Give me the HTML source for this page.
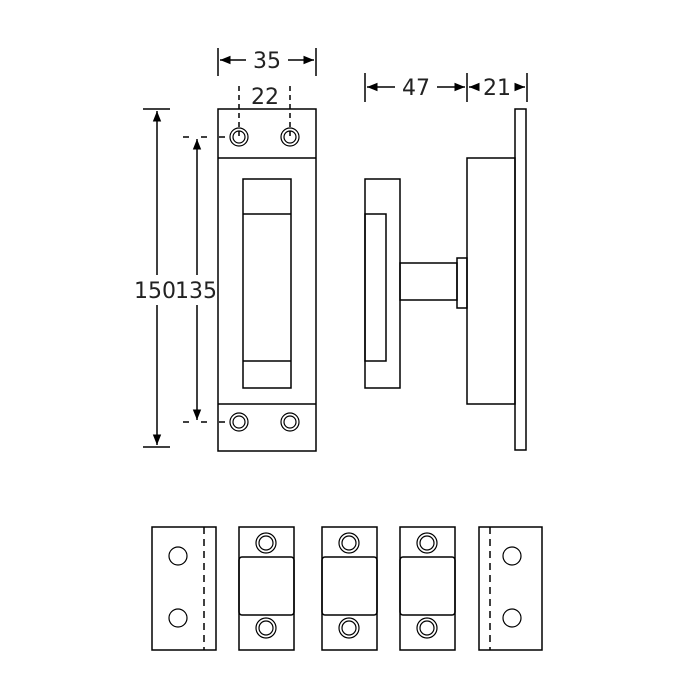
<!DOCTYPE html>
<html><head><style>body{margin:0;background:#fff}svg{display:block}text{font-family:"DejaVu Sans","Liberation Sans",sans-serif;fill:#222}</style></head><body>
<svg width="700" height="700" viewBox="0 0 700 700" xmlns="http://www.w3.org/2000/svg">
<defs><marker id="a" viewBox="0 0 10 10" refX="10" refY="5" markerWidth="7" markerHeight="7" orient="auto-start-reverse"><path d="M0,1 L10,5 L0,9z" fill="#000"/></marker></defs>
<g fill="none" stroke="#000" stroke-width="1.5">
<!-- front plate -->
<rect x="218" y="109" width="98" height="342"/>
<line x1="218" y1="158" x2="316" y2="158"/><line x1="218" y1="404" x2="316" y2="404"/>
<rect x="243" y="179" width="48" height="209"/>
<line x1="243" y1="214" x2="291" y2="214"/><line x1="243" y1="361" x2="291" y2="361"/>
<g stroke-width="1.2"><circle cx="239" cy="137" r="9"/><circle cx="239" cy="137" r="6"/><circle cx="290" cy="137" r="9"/><circle cx="290" cy="137" r="6"/>
<circle cx="239" cy="422" r="9"/><circle cx="239" cy="422" r="6"/><circle cx="290" cy="422" r="9"/><circle cx="290" cy="422" r="6"/></g>
<!-- dims -->
<line x1="218" y1="48" x2="218" y2="76"/><line x1="316" y1="48" x2="316" y2="76"/>
<line x1="220" y1="60" x2="246" y2="60" marker-end="url(#a)" transform="rotate(180 233 60)"/>
<line x1="288" y1="60" x2="314" y2="60" marker-end="url(#a)"/>
<line x1="239" y1="86" x2="239" y2="137" stroke-dasharray="5,4"/><line x1="290" y1="86" x2="290" y2="137" stroke-dasharray="5,4"/>
<line x1="143" y1="109" x2="170" y2="109"/><line x1="143" y1="447" x2="170" y2="447"/>
<line x1="157" y1="275" x2="157" y2="111" marker-end="url(#a)"/><line x1="157" y1="305" x2="157" y2="445" marker-end="url(#a)"/>
<line x1="183" y1="137" x2="232" y2="137" stroke-dasharray="6,12"/><line x1="183" y1="422" x2="232" y2="422" stroke-dasharray="6,12"/>
<line x1="197" y1="275" x2="197" y2="139" marker-end="url(#a)"/><line x1="197" y1="305" x2="197" y2="420" marker-end="url(#a)"/>
<!-- side -->
<line x1="365" y1="73" x2="365" y2="102"/><line x1="467" y1="73" x2="467" y2="102"/><line x1="527" y1="73" x2="527" y2="102"/>
<line x1="395" y1="87" x2="367" y2="87" marker-end="url(#a)"/><line x1="437" y1="87" x2="465" y2="87" marker-end="url(#a)"/>
<line x1="476" y1="87" x2="469" y2="87" marker-end="url(#a)"/><line x1="518" y1="87" x2="525" y2="87" marker-end="url(#a)"/>
<rect x="515" y="109" width="11" height="341"/>
<rect x="467" y="158" width="48" height="246"/>
<rect x="457" y="258" width="10" height="50"/>
<rect x="400" y="263" width="57" height="37"/>
<rect x="365" y="179" width="35" height="209"/>
<rect x="365" y="214" width="21" height="147"/>
<!-- bottom -->
<rect x="152" y="527" width="64" height="123"/><line x1="204" y1="527" x2="204" y2="650" stroke-dasharray="7,5"/>
<circle cx="178" cy="556" r="9" stroke-width="1.2"/><circle cx="178" cy="618" r="9" stroke-width="1.2"/>
<rect x="479" y="527" width="63" height="123"/><line x1="490" y1="527" x2="490" y2="650" stroke-dasharray="7,5"/>
<circle cx="512" cy="556" r="9" stroke-width="1.2"/><circle cx="512" cy="618" r="9" stroke-width="1.2"/>
<g id="p"><rect x="239" y="527" width="55" height="123"/><rect x="239" y="557" width="55" height="58" rx="3"/>
<g stroke-width="1.2"><circle cx="266" cy="543" r="10"/><circle cx="266" cy="543" r="7"/><circle cx="266" cy="628" r="10"/><circle cx="266" cy="628" r="7"/></g></g>
<use href="#p" x="83"/><use href="#p" x="161"/>
</g>
<g font-size="22"><text x="267" y="68" text-anchor="middle">35</text><text x="265" y="104" text-anchor="middle">22</text>
<text x="155" y="298" text-anchor="middle">150</text><text x="196" y="298" text-anchor="middle">135</text>
<text x="416" y="95" text-anchor="middle">47</text><text x="497" y="95" text-anchor="middle">21</text></g>
</svg></body></html>
